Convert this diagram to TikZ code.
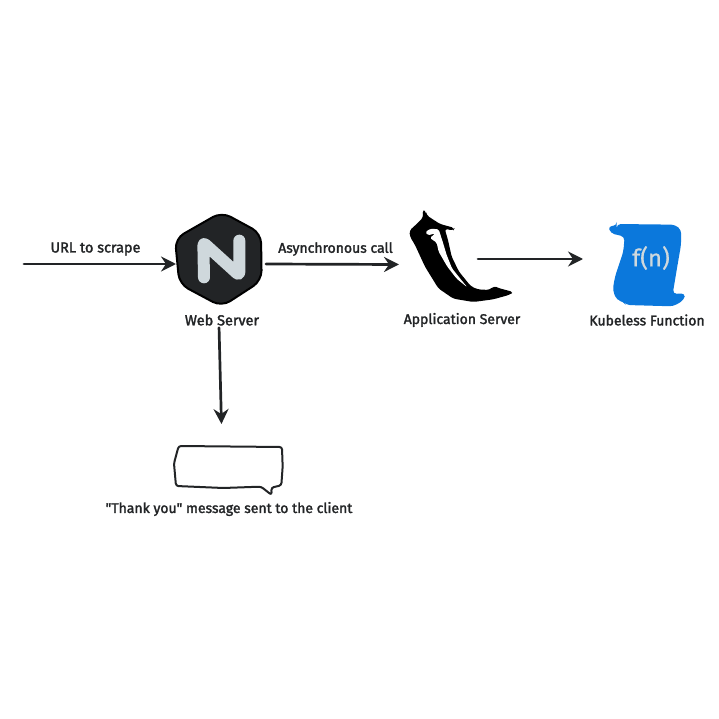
\documentclass[tikz,border=0pt]{standalone}
\usepackage{fontspec}
\newfontfamily\lblfont[FakeBold=2]{Fira Sans}
\newfontfamily\fnfont[FakeBold=0.6]{Fira Sans}
\usetikzlibrary{arrows.meta}
\definecolor{ink}{HTML}{222426}
\definecolor{nlight}{HTML}{CFD8DC}
\definecolor{kblue}{HTML}{0B78DC}
\tikzset{
  conn/.style={draw=ink,line width=2.7pt,line cap=round,-{Stealth[length=15pt,width=15pt,inset=5pt]}},
  lbl/.style={text=ink,font=\lblfont\fontsize{14}{16}\selectfont,inner sep=0pt,anchor=center},
  lblwide/.style={lbl,font=\lblfont\fontsize{14.5}{16}\selectfont},
  anchorbox/.style={inner sep=0pt,outer sep=0pt,draw=none},
  zoomA/.style={shift={(#1)},x=0.3333pt,y=-0.3333pt}
}
\begin{document}
\begin{tikzpicture}[x=1pt,y=-1pt]
\useasboundingbox (0,0) rectangle (719,719);
% web server hexagon
\begin{scope}[zoomA={160,200}]
\filldraw[fill=ink,draw=black,line width=2pt,line join=round,rounded corners=10pt]
 (185,36) -- (303,100) -- (305,242) -- (185,320) -- (58,252) -- (45,116) -- cycle;
\draw[nlight,line width=12pt,line cap=round,line join=round,rounded corners=3pt]
 (132,232) -- (130,128) -- (238,226) -- (238,122);
\end{scope}
% flask horn
\begin{scope}[zoomA={390,200}]
\fill[black,rounded corners=3pt]
 (97,30) -- (108,34) -- (110,46) -- (150,72) -- (194,84) -- (190,92) -- (164,86)
 -- (174,120) -- (185,170) -- (207,215) -- (242,258) -- (262,268) -- (298,270) -- (312,258) -- (325,264)
 -- (370,276) -- (360,284) -- (310,298) -- (250,306) -- (190,296) -- (145,265) -- (105,200)
 -- (75,135) -- (60,110) -- (58,92) -- (80,72) -- (100,52) -- cycle;
\fill[white,rounded corners=1.5pt]
 (106,96) -- (122,86) -- (146,88) -- (158,125) -- (170,165) -- (186,205) -- (218,245) -- (232,262)
 -- (200,236) -- (172,200) -- (146,155) -- (140,128) -- (120,114) -- (136,100) -- (114,106) -- cycle;
\end{scope}
% kubeless scroll
\begin{scope}[zoomA={580,210}]
\fill[kblue,rounded corners=4pt]
 (110,42) -- (285,44) -- (304,60) -- (303,105) -- (290,180) -- (278,252) -- (316,250) -- (312,270) -- (280,289)
 -- (138,285) -- (130,275) -- (110,270) -- (98,240) -- (105,200) -- (130,125) -- (134,80) -- (118,76) -- (92,70) -- (84,48) -- (110,48) -- cycle;
\end{scope}
\node[anchorbox,text=nlight,font=\fnfont\fontsize{24}{26}\selectfont] (fn) at (651,258) {f(n)};
% speech bubble
\begin{scope}[zoomA={100,400}]
\draw[ink,line width=2pt,line join=round,rounded corners=2.5pt]
 (236,138) -- (546,141) -- (548,200) -- (544,256) -- (514,263) -- (515,285) -- (483,260)
 -- (370,264) -- (228,258) -- (222,190) -- cycle;
\end{scope}
% anchors
\node[anchorbox,minimum width=90pt,minimum height=94pt] (web) at (221,259) {};
\node[anchorbox,minimum width=79pt,minimum height=20pt] (app) at (438.5,262) {};
\node[anchorbox,minimum width=24pt,minimum height=20pt] (kube) at (595,259) {};
\node[anchorbox,minimum width=108pt,minimum height=42pt] (bubble) at (229,467) {};
\coordinate (start) at (24,264);
% labels
\node[lblwide] (l1) at (95.5,249) {URL to scrape};
\node[lbl] (l2) at (335.5,249) {Asynchronous call};
\node[lblwide] (l3) at (222,320) {Web Server};
\node[lbl] (l4) at (462,320) {Application Server};
\node[lbl] (l5) at (647,320) {Kubeless Function};
\node[lbl] (l6) at (229,509) {"Thank you" message sent to the client};
% connectors
\draw[conn] (start) -- (web.west |- start);
\draw[conn] (web.east |- 0,264) -- (app.west |- 0,264.5);
\draw[conn] (app.east |- 0,259) -- (kube.west |- 0,259);
\draw[conn,shorten <=2pt,shorten >=22pt] (l3.south -| 219,0) -- (bubble.north -| 222,0);
\end{tikzpicture}
\end{document}
